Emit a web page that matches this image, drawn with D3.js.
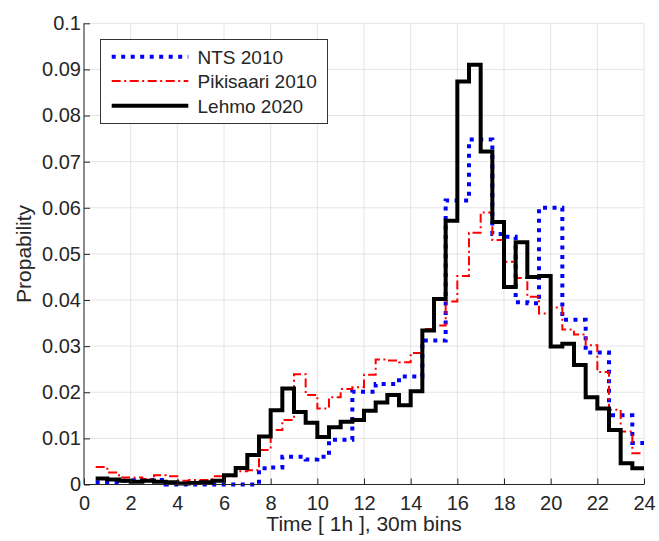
<!DOCTYPE html>
<html>
<head>
<meta charset="utf-8">
<script src="https://cdn.jsdelivr.net/npm/d3@7"></script>
<style>
  html, body { margin: 0; padding: 0; background: #ffffff; }
  svg { display: block; font-family: "Liberation Sans", Arial, Helvetica, sans-serif; }
</style>
</head>
<body>
<svg id="chart" width="659" height="541"></svg>
<script>
// ---- data: 30 minute bins, start hour of each bin ----
const binStarts = [0.5,1.0,1.5,2.0,2.5,3.0,3.5,4.0,4.5,5.0,5.5,6.0,6.5,7.0,7.5,8.0,8.5,9.0,9.5,10.0,
  10.5,11.0,11.5,12.0,12.5,13.0,13.5,14.0,14.5,15.0,15.5,16.0,16.5,17.0,17.5,18.0,18.5,19.0,19.5,20.0,
  20.5,21.0,21.5,22.0,22.5,23.0,23.5];
const binEnd = 24;

const ntsValues = [0.0005,0.0005,0.0008,0.0009,0.0010,0.0010,0.0000,0.0000,0.0000,0.0000,0.0000,0.0000,0.0000,0.0000,
  0.0035,0.0037,0.0060,0.0060,0.0054,0.0060,0.0097,0.0097,0.0201,0.0201,0.0218,0.0218,0.0234,0.0234,
  0.0312,0.0312,0.0616,0.0616,0.0748,0.0748,0.0543,0.0537,0.0395,0.0393,0.0600,0.0600,
  0.0357,0.0357,0.0286,0.0286,0.0150,0.0150,0.0090];

const pikisaariValues = [0.0038,0.0026,0.0015,0.0015,0.0012,0.0020,0.0018,0.0008,0.0010,0.0010,0.0018,0.0018,0.0029,0.0031,
  0.0075,0.0118,0.0140,0.0239,0.0194,0.0165,0.0189,0.0207,0.0211,0.0238,0.0271,0.0269,0.0265,0.0285,
  0.0337,0.0345,0.0397,0.0452,0.0546,0.0590,0.0530,0.0483,0.0448,0.0407,0.0371,0.0384,
  0.0336,0.0325,0.0302,0.0244,0.0162,0.0115,0.0068];

const lehmoValues = [0.0013,0.0011,0.0008,0.0006,0.0008,0.0006,0.0005,0.0002,0.0003,0.0005,0.0008,0.0020,0.0036,0.0064,
  0.0104,0.0161,0.0208,0.0157,0.0134,0.0103,0.0124,0.0136,0.0140,0.0160,0.0178,0.0194,0.0172,0.0202,
  0.0334,0.0402,0.0572,0.0874,0.0910,0.0722,0.0569,0.0428,0.0525,0.0450,0.0452,0.0299,
  0.0305,0.0259,0.0189,0.0165,0.0118,0.0046,0.0035];

const seriesNames = ["NTS 2010", "Pikisaari 2010", "Lehmo 2020"];
const xTicks = [0,2,4,6,8,10,12,14,16,18,20,22,24];
const yTicks = [0,0.01,0.02,0.03,0.04,0.05,0.06,0.07,0.08,0.09,0.1];
const yTickLabels = ["0","0.01","0.02","0.03","0.04","0.05","0.06","0.07","0.08","0.09","0.1"];
const xLabel = "Time [ 1h ], 30m bins";
const yLabel = "Propability";

// ---- drawing ----
(function () {
const svg = d3.select("#chart");
const pLeft = 84, pRight = 644, pTop = 23.3, pBottom = 484.5;
const x = d3.scaleLinear().domain([0, 24]).range([pLeft, pRight]);
const y = d3.scaleLinear().domain([0, 0.1]).range([pBottom, pTop]);

const axisColor = "#262626";
const gridColor = "#e4e4e4";

// grid
const grid = svg.append("g");
grid.selectAll("line.gx").data(xTicks).join("line")
  .attr("class", "gx")
  .attr("x1", d => x(d)).attr("x2", d => x(d))
  .attr("y1", pTop).attr("y2", pBottom)
  .attr("stroke", gridColor).attr("stroke-width", 1);
grid.selectAll("line.gy").data(yTicks).join("line")
  .attr("class", "gy")
  .attr("x1", pLeft).attr("x2", pRight)
  .attr("y1", d => y(d)).attr("y2", d => y(d))
  .attr("stroke", gridColor).attr("stroke-width", 1);

// series
const styles = [
  { color: "#0000ff", width: 4, dash: "4,5.5" },
  { color: "#ff0000", width: 2, dash: "9,3.5,2,3.5" },
  { color: "#000000", width: 4, dash: null }
];
const allValues = [ntsValues, pikisaariValues, lehmoValues];

const line = d3.line()
  .x(d => x(d[0]))
  .y(d => y(d[1]))
  .curve(d3.curveStepAfter);

allValues.forEach((vals, i) => {
  const pts = binStarts.map((b, j) => [b, vals[j]]);
  pts.push([binEnd, vals[vals.length - 1]]);
  svg.append("path")
    .datum(pts)
    .attr("d", line)
    .attr("fill", "none")
    .attr("stroke", styles[i].color)
    .attr("stroke-width", styles[i].width)
    .attr("stroke-dasharray", styles[i].dash)
    .attr("stroke-linejoin", "miter")
    .attr("stroke-linecap", "butt");
});

// axes
const xAxis = d3.axisBottom(x).tickValues(xTicks).tickSize(-6).tickPadding(11)
  .tickFormat(d3.format("d"));
const gx = svg.append("g").attr("transform", `translate(0,${pBottom})`).call(xAxis);
gx.select(".domain").attr("stroke", axisColor).attr("d", `M${pLeft},0H${pRight}`);
gx.selectAll(".tick line").attr("stroke", axisColor);
gx.selectAll(".tick text").attr("fill", axisColor).attr("font-size", 20)
  .attr("font-family", "Liberation Sans, Arial, sans-serif");

const yAxis = d3.axisLeft(y).tickValues(yTicks).tickSize(-6).tickPadding(3)
  .tickFormat((d, i) => yTickLabels[i]);
const gy = svg.append("g").attr("transform", `translate(${pLeft},0)`).call(yAxis);
gy.select(".domain").attr("stroke", axisColor).attr("d", `M0,${pTop}V${pBottom}`);
gy.selectAll(".tick line").attr("stroke", axisColor);
gy.selectAll(".tick text").attr("fill", axisColor).attr("font-size", 20)
  .attr("font-family", "Liberation Sans, Arial, sans-serif");

// axis labels
svg.append("text")
  .attr("x", (pLeft + pRight) / 2).attr("y", 531)
  .attr("text-anchor", "middle").attr("font-size", 21).attr("fill", axisColor)
  .text(xLabel);
svg.append("text")
  .attr("transform", `translate(31,${(pTop + pBottom) / 2}) rotate(-90)`)
  .attr("text-anchor", "middle").attr("font-size", 21).attr("fill", axisColor)
  .text(yLabel);

// legend
const lg = svg.append("g");
lg.append("rect")
  .attr("x", 100.5).attr("y", 39.5).attr("width", 227).attr("height", 84)
  .attr("fill", "#ffffff").attr("stroke", "#333333").attr("stroke-width", 1);
const rowY = [56.7, 81, 105.7];
seriesNames.forEach((name, i) => {
  lg.append("line")
    .attr("x1", 111.7).attr("x2", 188.3)
    .attr("y1", rowY[i]).attr("y2", rowY[i])
    .attr("stroke", styles[i].color)
    .attr("stroke-width", styles[i].width)
    .attr("stroke-dasharray", styles[i].dash);
  lg.append("text")
    .attr("x", 197.5).attr("y", rowY[i] + 6.8)
    .attr("font-size", 19).attr("fill", axisColor)
    .text(name);
});
})();
</script>
</body>
</html>
